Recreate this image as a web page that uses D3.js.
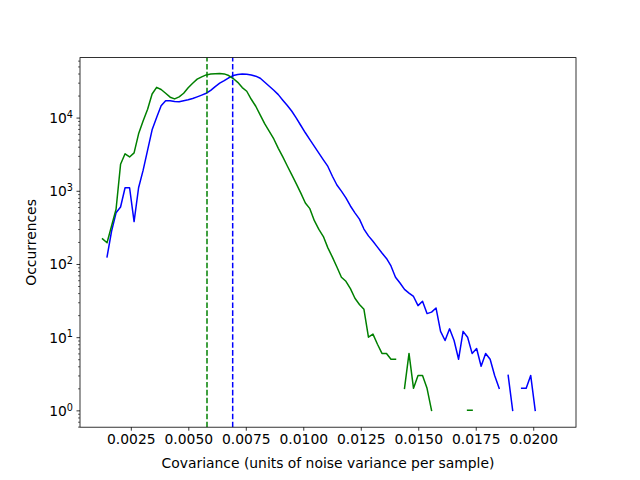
<!DOCTYPE html>
<html>
<head>
<meta charset="utf-8">
<script src="https://cdn.jsdelivr.net/npm/d3@7/dist/d3.min.js"></script>
<style>
  body { margin: 0; background: #fff; }
  svg text { font-family: "DejaVu Sans", sans-serif; fill: #000; }
</style>
</head>
<body>
<div id="chart"></div>
<script>
// histogram bins (shared by both series)
var binStart = 0.00127;
var binWidth = 0.000196;

// counts per bin, null = empty bin (not drawn on log axis)
var blueCounts = [
  null, 125, 280, 500, 600, 1100, 1100, 380, 1100, 1900,
  3600, 6800, 10000, 14500, 17000, 17000, 16600, 16500, 17000, 17500,
  18200, 19200, 20300, 21500, 23500, 26500, 29500, 32000, 35000, 37500,
  38800, 39500, 39200, 38200, 36800, 34500, 30400, 26800, 23600, 20600,
  17300, 14600, 12200, 9850, 7800, 6200, 5000, 4050, 3270, 2650,
  2150, 1580, 1200, 990, 800, 620, 500, 410, 300, 242,
  204, 170, 141, 119, 94, 66, 55, 45, 40, 36,
  27, 31, 21, 22, 25, 12, 9, 13, 9, 5,
  12, 10, 6, 7, 4, 6, 5, 3, 2, null,
  3, 1, null, 2, 2, 3, 1, null, null, null, null
];
var greenCounts = [
  220, 195, 330, 560, 2300, 3200, 2900, 3300, 6000, 9000,
  13000, 21000, 25900, 24200, 21500, 19000, 18000, 19200, 21500, 25500,
  29500, 33500, 36000, 38300, 39300, 39800, 40000, 39500, 37500, 34200,
  30300, 25700, 22900, 17800, 14300, 10800, 8200, 6500, 5100, 3800,
  2900, 2180, 1650, 1240, 930, 680, 570, 390, 297, 237,
  166, 124, 91, 66, 58, 46, 34, 28, 24, 10,
  11, 8, 6, 6, 5, 5, null, 2, 6, 2,
  3, 3, 2, 1, null, null, null, null, null, null,
  null, 1, 1, null, null, null, null, null, null, null,
  null, null, null, null, null, null, null, null, null, null, null
];

// means drawn as dashed vertical lines
var greenMean = 0.005813;
var blueMean = 0.006930;

var xTicks = [0.0025, 0.0050, 0.0075, 0.0100, 0.0125, 0.0150, 0.0175, 0.0200];
var xTickLabels = ["0.0025", "0.0050", "0.0075", "0.0100", "0.0125", "0.0150", "0.0175", "0.0200"];
var yTicks = [1, 10, 100, 1000, 10000];
var yTickExponents = ["0", "1", "2", "3", "4"];

var width = 640, height = 480;
var plotLeft = 80, plotRight = 576, plotTop = 57.6, plotBottom = 427.2;

var svg = d3.select("#chart").append("svg")
    .attr("width", width)
    .attr("height", height);

svg.append("rect").attr("width", width).attr("height", height).attr("fill", "#fff");

var x = d3.scaleLinear().domain([0.00029, 0.02186]).range([plotLeft, plotRight]);
var y = d3.scaleLog().domain([0.589, 66000]).range([plotBottom, plotTop]);

function toPoints(counts) {
    return counts.map(function (c, i) {
        return { cov: binStart + i * binWidth, count: c };
    });
}

svg.append("clipPath").attr("id", "plotArea")
    .append("rect")
    .attr("x", plotLeft).attr("y", plotTop)
    .attr("width", plotRight - plotLeft).attr("height", plotBottom - plotTop);

var line = d3.line()
    .defined(function (d) { return d.count != null && d.count > 0; })
    .x(function (d) { return x(d.cov); })
    .y(function (d) { return y(d.count); });

var plot = svg.append("g").attr("clip-path", "url(#plotArea)");

plot.append("path")
    .datum(toPoints(blueCounts))
    .attr("d", line)
    .attr("fill", "none")
    .attr("stroke", "#0000ff")
    .attr("stroke-width", 1.5)
    .attr("stroke-linecap", "square")
    .attr("stroke-linejoin", "round");

plot.append("path")
    .datum(toPoints(greenCounts))
    .attr("d", line)
    .attr("fill", "none")
    .attr("stroke", "#008000")
    .attr("stroke-width", 1.5)
    .attr("stroke-linecap", "square")
    .attr("stroke-linejoin", "round");

// dashed mean lines
[[greenMean, "#008000"], [blueMean, "#0000ff"]].forEach(function (m) {
    plot.append("line")
        .attr("x1", x(m[0])).attr("x2", x(m[0]))
        .attr("y1", plotBottom).attr("y2", plotTop)
        .attr("stroke", m[1])
        .attr("stroke-width", 1.5)
        .attr("stroke-dasharray", "5.55,2.4");
});

// x axis
var xAxis = svg.append("g")
    .attr("transform", "translate(0," + plotBottom + ")")
    .call(d3.axisBottom(x)
        .tickValues(xTicks)
        .tickFormat(function (d, i) { return xTickLabels[i]; })
        .tickSize(3.5)
        .tickPadding(3.5));
xAxis.select(".domain").remove();
xAxis.selectAll("line").attr("stroke", "#000").attr("stroke-width", 0.8);
xAxis.selectAll("text").attr("font-size", "13.89px").attr("font-family", "DejaVu Sans");

// y axis minor ticks
var minorTicks = y.ticks().filter(function (t) {
    var e = Math.log10(t);
    return Math.abs(e - Math.round(e)) > 1e-6;
});
var yMinor = svg.append("g")
    .attr("transform", "translate(" + plotLeft + ",0)")
    .call(d3.axisLeft(y).tickValues(minorTicks).tickSize(2).tickFormat(""));
yMinor.select(".domain").remove();
yMinor.selectAll("line").attr("stroke", "#000").attr("stroke-width", 0.6);

// y axis major ticks
var yAxis = svg.append("g")
    .attr("transform", "translate(" + plotLeft + ",0)")
    .call(d3.axisLeft(y).tickValues(yTicks).tickSize(3.5).tickPadding(3.5).tickFormat(""));
yAxis.select(".domain").remove();
yAxis.selectAll("line").attr("stroke", "#000").attr("stroke-width", 0.8);
yAxis.selectAll(".tick text").each(function (d, i) {
    var t = d3.select(this).attr("font-size", "13.89px").attr("font-family", "DejaVu Sans").attr("dy", "0.36em");
    t.append("tspan").text("10");
    t.append("tspan").attr("font-size", "9.7px").attr("dy", "-0.55em").text(yTickExponents[i]);
});

// frame
svg.append("rect")
    .attr("x", plotLeft).attr("y", plotTop)
    .attr("width", plotRight - plotLeft).attr("height", plotBottom - plotTop)
    .attr("fill", "none")
    .attr("stroke", "#000")
    .attr("stroke-width", 0.8);

// labels
svg.append("text")
    .attr("x", (plotLeft + plotRight) / 2)
    .attr("y", 468)
    .attr("text-anchor", "middle")
    .attr("font-size", "13.89px")
    .text("Covariance (units of noise variance per sample)");

svg.append("text")
    .attr("transform", "translate(36," + (plotTop + plotBottom) / 2 + ") rotate(-90)")
    .attr("text-anchor", "middle")
    .attr("font-size", "13.89px")
    .text("Occurrences");
</script>
</body>
</html>
